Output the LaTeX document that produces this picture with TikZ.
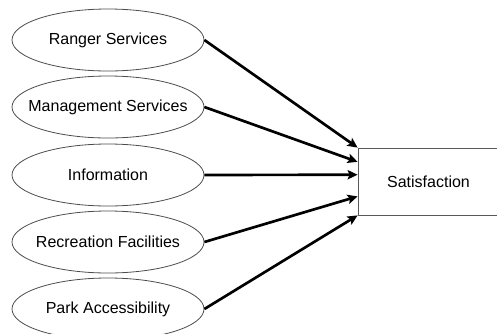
\documentclass[tikz,border=0pt]{standalone}
\usepackage{fontspec}
\setmainfont{Liberation Sans}
\usetikzlibrary{shapes.geometric,arrows.meta,calc}

\begin{document}
\begin{tikzpicture}[x=0.75pt,y=-0.75pt,
    every node/.style={font=\fontsize{12pt}{14pt}\selectfont},
    factor/.style={ellipse,draw=black!70,line width=0.6pt,
      minimum width=144pt,minimum height=46.5pt,inner xsep=-16pt,inner ysep=0pt},
    outcome/.style={rectangle,draw=black!65,line width=0.6pt,
      minimum width=105.75pt,minimum height=50.25pt}]
  \clip (0,0) rectangle (497,333);
  \draw
    (108,40) node[factor] (1){Ranger Services}
    (108,107) node[factor] (2){Management Services}
    (108,175) node[factor] (3){Information}
    (108,242) node[factor] (4){Recreation Facilities}
    (108,309) node[factor] (5){Park Accessibility}
    (428.5,181.5) node[outcome] (6){Satisfaction};
  \begin{scope}[line width=2pt,-{Stealth[length=7.5pt,width=7pt,inset=1.5pt]}]
    \draw (1.east) to (6.north west);
    \draw (2.east) to ($(6.north west)!0.21!(6.south west)$);
    \draw (3.east) to ($(6.north west)!0.40!(6.south west)$);
    \draw (4.east) to ($(6.north west)!0.72!(6.south west)$);
    \draw (5.east) to (6.south west);
  \end{scope}
\end{tikzpicture}
\end{document}
